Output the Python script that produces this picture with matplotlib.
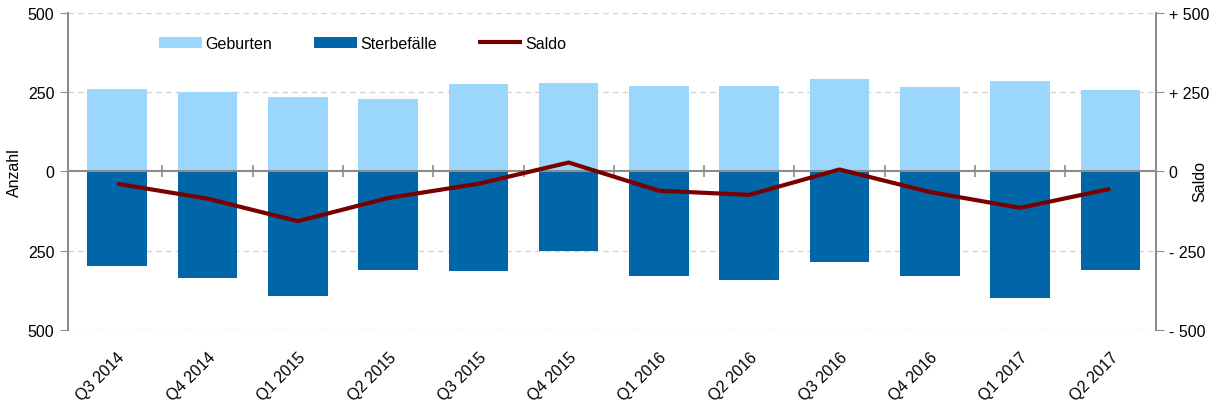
import numpy as np
import matplotlib.pyplot as plt

plt.rcParams['font.family'] = ['Liberation Sans', 'DejaVu Sans']

quarters = ['Q3 2014', 'Q4 2014', 'Q1 2015', 'Q2 2015', 'Q3 2015', 'Q4 2015',
            'Q1 2016', 'Q2 2016', 'Q3 2016', 'Q4 2016', 'Q1 2017', 'Q2 2017']
geburten = [259, 250, 235, 228, 276, 280, 268, 269, 293, 265, 285, 257]
sterbefaelle = [298, 336, 392, 312, 315, 252, 329, 343, 287, 330, 400, 312]
saldo = [-39, -86, -157, -84, -39, 28, -61, -74, 6, -65, -115, -55]

left_ticks = [500, 250, 0, -250, -500]
left_labels = ['500', '250', '0', '250', '500']
right_labels = ['+ 500', '+ 250', '0', '- 250', '- 500']

c_geb = '#9BD7FD'
c_ster = '#0066A8'
c_saldo = '#7A0000'
c_axis = '#8C8C8C'
c_grid = '#D4D4D4'
fs = 11.5

fig = plt.figure(figsize=(12.28, 4.10), dpi=100)
ax = fig.add_axes([0.055, 0.193, 0.886, 0.773])
x = np.arange(len(quarters))

ax.bar(x, geburten, width=0.66, color=c_geb, label='Geburten', zorder=2)
ax.bar(x, [-v for v in sterbefaelle], width=0.66, color=c_ster,
       label='Sterbefälle', zorder=2)

ax.set_xlim(-0.55, len(quarters) - 0.5)
ax.set_ylim(-500, 500)
ax.set_yticks(left_ticks)
ax.set_yticklabels(left_labels)
for v in [500, 250, -250, -500]:
    ax.axhline(v, color=c_grid, linestyle=(0, (4, 3)), linewidth=1, zorder=1)
ax.axhline(0, color=c_axis, linewidth=1.5, zorder=3)

ax.set_xticks(x)
ax.set_xticklabels(quarters, rotation=45, ha='right', rotation_mode='anchor')
ax.tick_params(axis='x', length=0, pad=14, labelsize=fs)
ax.tick_params(axis='y', direction='out', length=6, color=c_axis, labelsize=fs)

for s in ['top', 'bottom', 'right']:
    ax.spines[s].set_visible(False)
ax.spines['left'].set_color(c_axis)
ax.spines['left'].set_linewidth(1.5)
ax.set_ylabel('Anzahl', fontsize=fs, labelpad=4)

# category separators on the zero line
sec = ax.secondary_xaxis(0.5)
sec.set_xticks(np.arange(len(quarters) - 1) + 0.5)
sec.set_xticklabels([])
sec.tick_params(direction='inout', length=9, width=1.2, color=c_axis)
for s in sec.spines.values():
    s.set_visible(False)

ax2 = ax.twinx()
ax2.set_ylim(-500, 500)
ax2.set_yticks(left_ticks)
ax2.set_yticklabels(right_labels)
ax2.tick_params(axis='y', direction='out', length=6, color=c_axis, labelsize=fs)
for s in ['top', 'bottom', 'left']:
    ax2.spines[s].set_visible(False)
ax2.spines['right'].set_color(c_axis)
ax2.spines['right'].set_linewidth(1.5)
ax2.plot(x, saldo, color=c_saldo, linewidth=3, label='Saldo', zorder=5,
         solid_capstyle='butt')
ax2.set_ylabel('Saldo', fontsize=fs, rotation=90, va='center')
ax2.yaxis.set_label_coords(1.041, 0.47)

h1, l1 = ax.get_legend_handles_labels()
h2, l2 = ax2.get_legend_handles_labels()
ax2.legend(h1 + h2, l1 + l2, loc='upper left', bbox_to_anchor=(0.118, 0.945),
           bbox_transform=fig.transFigure, ncol=3, frameon=False,
           fontsize=fs, handlelength=2.7, handleheight=0.75,
           handletextpad=0.2, columnspacing=2.6)

fig.savefig('out.png', dpi=100, facecolor='white')
